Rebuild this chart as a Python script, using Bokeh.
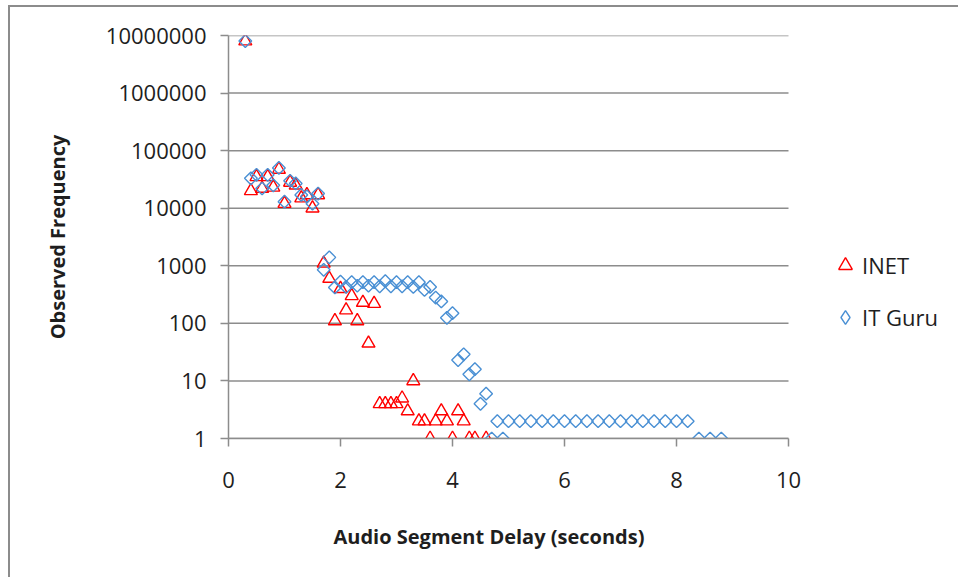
import math
from bokeh.plotting import figure
from bokeh.models import FixedTicker, NumeralTickFormatter, Legend, LegendItem, Range1d, Title
from bokeh.embed import file_html
from bokeh.resources import INLINE

# ---- data ----
inet_x = [0.3, 0.4, 0.5, 0.6, 0.7, 0.8, 0.9, 1.0, 1.1, 1.2, 1.3, 1.4, 1.5, 1.6,
          1.7, 1.8, 1.9, 2.0, 2.1, 2.2, 2.3, 2.4, 2.5, 2.6,
          2.7, 2.8, 2.9, 3.0, 3.1, 3.2, 3.3, 3.4, 3.5, 3.6, 3.7, 3.8, 3.9,
          4.0, 4.1, 4.2, 4.3, 4.4, 4.6]
inet_y = [8000000, 20000, 35000, 22000, 35000, 23000, 47000, 12000, 28000, 25000, 15000, 17000, 10000, 17000,
          1100, 600, 110, 400, 170, 300, 110, 230, 45, 220,
          4, 4, 4, 4, 5, 3, 10, 2, 2, 1, 2, 3, 2,
          1, 3, 2, 1, 1, 1]

itguru_x = [0.3, 0.4, 0.5, 0.6, 0.7, 0.8, 0.9, 1.0, 1.1, 1.2, 1.3, 1.4, 1.5, 1.6,
            1.7, 1.8, 1.9, 2.0, 2.1, 2.2, 2.3, 2.4, 2.5, 2.6, 2.7, 2.8, 2.9,
            3.0, 3.1, 3.2, 3.3, 3.4, 3.5, 3.6, 3.7, 3.8, 3.9,
            4.0, 4.1, 4.2, 4.3, 4.4, 4.5, 4.6, 4.7, 4.8, 4.9,
            5.0, 5.2, 5.4, 5.6, 5.8, 6.0, 6.2, 6.4, 6.6, 6.8, 7.0, 7.2, 7.4, 7.6, 7.8, 8.0, 8.2,
            8.4, 8.6, 8.8]
itguru_y = [8000000, 33000, 38000, 22000, 38000, 25000, 50000, 13000, 30000, 27000, 17000, 16000, 12000, 18000,
            850, 1400, 420, 530, 430, 520, 450, 520, 450, 520, 440, 540, 440,
            520, 440, 520, 430, 520, 380, 430, 280, 240, 125,
            150, 23, 29, 13, 16, 4, 6, 1, 2, 1,
            2, 2, 2, 2, 2, 2, 2, 2, 2, 2, 2, 2, 2, 2, 2, 2, 2,
            1, 1, 1]

x_ticks = [0, 2, 4, 6, 8, 10]
y_ticks = [1, 10, 100, 1000, 10000, 100000, 1000000, 10000000]
series_names = ["INET", "IT Guru"]
x_title = "Audio Segment Delay (seconds)"
y_title = "Observed Frequency"

FONT = "Open Sans"
GRID = "#8c8c8c"
TXT = "#1e1e1e"
RED = "#ff0000"
BLUE = "#4a90d4"

# layout: the frame is extended to the right so the legend can sit inside it;
# axis and gridlines are bounded to the 0..10 data range.
W, H = 950, 572
B_LEFT, B_RIGHT, B_TOP, B_BOTTOM = 218, 5, 28, 140
DATA_PX = 560                      # pixels spanned by x = 0..10
frame_w = W - B_LEFT - B_RIGHT
x_end = x_ticks[-1] * frame_w / DATA_PX

p = figure(width=W, height=H, output_backend="svg", toolbar_location=None,
           y_axis_type="log",
           x_range=Range1d(0, x_end), y_range=Range1d(y_ticks[0], y_ticks[-1]),
           min_border_left=B_LEFT, min_border_right=B_RIGHT,
           min_border_top=B_TOP, min_border_bottom=B_BOTTOM)
p.styles = {"margin-left": "8px", "margin-top": "5px",
            "border-left": "2px solid #8c8c8c", "border-top": "2px solid #8c8c8c"}
p.outline_line_color = None
p.background_fill_color = "white"
p.border_fill_color = "white"

# axes
p.xaxis.ticker = FixedTicker(ticks=x_ticks, minor_ticks=[])
p.xaxis.bounds = (x_ticks[0], x_ticks[-1])
p.yaxis.ticker = FixedTicker(ticks=y_ticks, minor_ticks=[])
p.yaxis.formatter = NumeralTickFormatter(format="0")
for ax in (p.xaxis[0], p.yaxis[0]):
    ax.axis_line_color = GRID
    ax.axis_line_width = 1.5
    ax.major_tick_line_color = GRID
    ax.major_tick_line_width = 1.5
    ax.major_tick_in = 0
    ax.major_tick_out = 8
    ax.minor_tick_line_color = None
    ax.major_label_text_font = FONT
    ax.major_label_text_font_size = "22px"
    ax.major_label_text_color = TXT
    ax.axis_label_text_font = FONT
    ax.axis_label_text_font_size = "20px"
    ax.axis_label_text_font_style = "bold"
    ax.axis_label_text_color = TXT
p.yaxis.major_label_standoff = 14
p.xaxis.major_label_standoff = 25
p.yaxis.axis_label = y_title
p.yaxis.axis_label_standoff = 32

# x-axis title centred under the 0..10 span (the frame itself is wider)
xt = Title(text=x_title, align="left", offset=105, standoff=60,
           text_font=FONT, text_font_size="20px", text_font_style="bold", text_color=TXT)
p.add_layout(xt, "below")

# horizontal gridlines, only across the 0..10 range
p.xgrid.visible = False
p.ygrid.visible = False
p.segment(x0=[x_ticks[0]] * len(y_ticks), x1=[x_ticks[-1]] * len(y_ticks),
          y0=y_ticks, y1=y_ticks, line_color=GRID, line_width=1.5, level="underlay")

# series
r_inet = p.scatter(inet_x, inet_y, marker="triangle", size=13,
                   line_color=RED, fill_color=None, line_width=1.4)
r_itg = p.scatter(itguru_x, itguru_y, marker="square", angle=math.pi / 4, size=9,
                  line_color=BLUE, fill_color=None, line_width=1.4)

# legend swatches: zero-size copies of each series' first point, used only for the legend glyph
lg_inet = p.scatter(inet_x[:1], inet_y[:1], marker="triangle", size=0,
                    line_color=RED, fill_color=None, line_width=1.4)
lg_itg = p.scatter(itguru_x[:1], itguru_y[:1], marker="diamond", size=0,
                   line_color=BLUE, fill_color=None, line_width=1.4)

legend = Legend(items=[LegendItem(label=series_names[0], renderers=[lg_inet]),
                       LegendItem(label=series_names[1], renderers=[lg_itg])],
                location=(600, 104), orientation="vertical",
                label_text_font=FONT, label_text_font_size="22px", label_text_color=TXT,
                glyph_width=34, glyph_height=34, label_height=33, label_standoff=0,
                spacing=18, padding=0, margin=0,
                border_line_color=None, background_fill_color=None)
p.add_layout(legend, "center")

open("out.html", "w").write(file_html(p, INLINE))
